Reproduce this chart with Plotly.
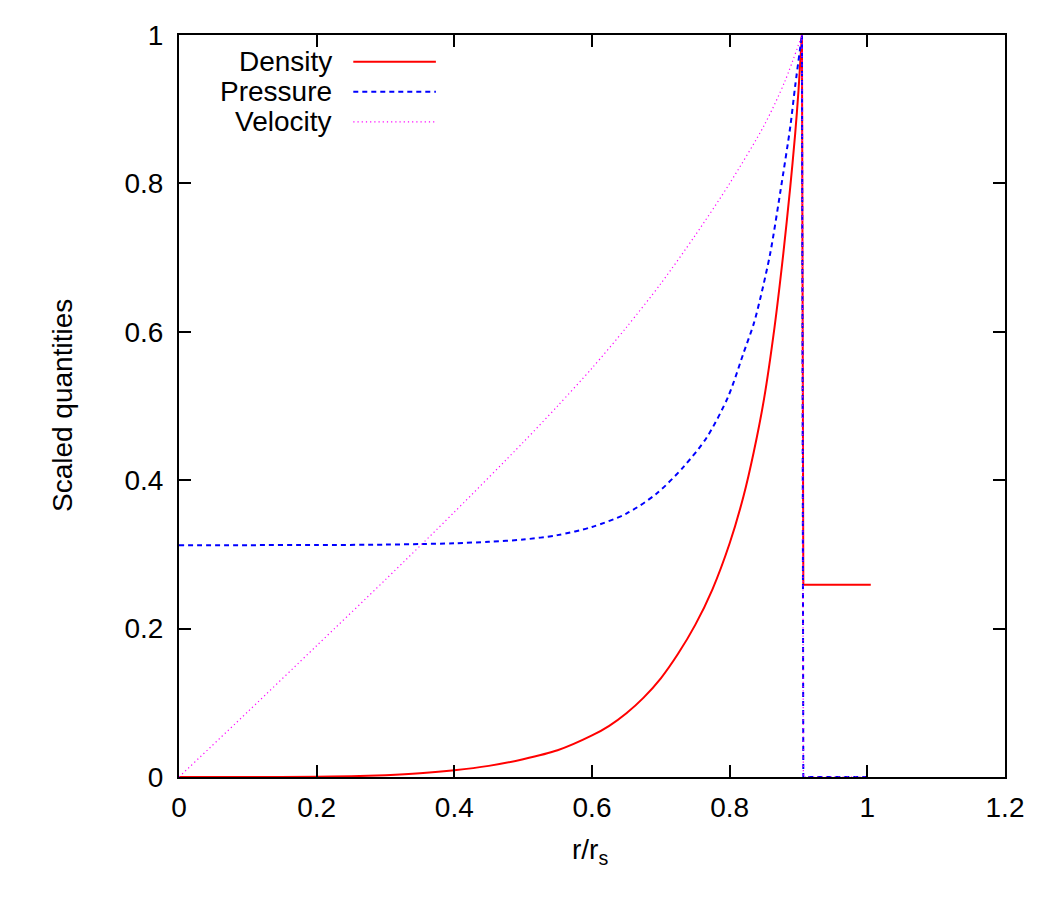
import plotly.graph_objects as go

# ---- data ----
density_x = [0, 0.1, 0.2, 0.25, 0.3, 0.35, 0.4, 0.45, 0.5, 0.55, 0.6, 0.625, 0.65, 0.675,
             0.7, 0.725, 0.75, 0.775, 0.8, 0.82, 0.835, 0.85, 0.865, 0.878, 0.888, 0.895,
             0.9, 0.905, 0.907, 1.005]
density_y = [0, 0.0, 0.0003, 0.001, 0.0025, 0.005, 0.009, 0.015, 0.024, 0.036, 0.056, 0.069,
             0.086, 0.107, 0.133, 0.166, 0.205, 0.253, 0.315, 0.378, 0.438, 0.51, 0.605,
             0.706, 0.795, 0.865, 0.925, 1.0, 0.259, 0.259]

pressure_x = [0, 0.1, 0.2, 0.3, 0.35, 0.4, 0.45, 0.5, 0.55, 0.6, 0.65, 0.694, 0.733, 0.767,
              0.798, 0.82, 0.835, 0.845, 0.859, 0.874, 0.888, 0.895, 0.905, 0.907, 1.0]
pressure_y = [0.3125, 0.3125, 0.3126, 0.3132, 0.314, 0.315, 0.317, 0.320, 0.326, 0.337, 0.355,
              0.382, 0.418, 0.458, 0.513, 0.571, 0.611, 0.647, 0.706, 0.791, 0.876, 0.93,
              1.0, 0.0, 0.0]

velocity_x = [0, 0.1, 0.2, 0.3, 0.4, 0.5, 0.55, 0.6, 0.65, 0.7, 0.75, 0.8, 0.85, 0.88,
              0.905, 0.907, 1.0]
velocity_y = [0, 0.088, 0.177, 0.266, 0.357, 0.451, 0.500, 0.551, 0.606, 0.665, 0.730, 0.800,
              0.878, 0.937, 1.0, 0.0, 0.0]

# index of the shock peak in each series (smooth part ends there, the jump follows)
shock_index = [27, 22, 14]

series_names = ["Density", "Pressure", "Velocity"]
series_colors = ["#ff0000", "#0000ff", "#ff00ff"]
series_dash = ["solid", "5px,4px", "1.2px,3px"]
series_width = [2, 2, 1.2]

x_ticks = [0, 0.2, 0.4, 0.6, 0.8, 1.0, 1.2]
x_ticklabels = ["0", "0.2", "0.4", "0.6", "0.8", "1", "1.2"]
y_ticks = [0, 0.2, 0.4, 0.6, 0.8, 1.0]
y_ticklabels = ["0", "0.2", "0.4", "0.6", "0.8", "1"]

FONT = "Liberation Sans, Arial, Helvetica, sans-serif"
FS = 28

fig = go.Figure()
for name, xs, ys, k, c, d, w in zip(series_names,
                                    [density_x, pressure_x, velocity_x],
                                    [density_y, pressure_y, velocity_y],
                                    shock_index, series_colors, series_dash, series_width):
    # smooth profile up to the shock
    fig.add_trace(go.Scatter(x=xs[:k + 1], y=ys[:k + 1], mode="lines", name=name,
                             line=dict(color=c, dash=d, width=w, shape="spline", smoothing=0.8),
                             showlegend=False))
    # jump at the shock and the undisturbed region
    fig.add_trace(go.Scatter(x=xs[k:], y=ys[k:], mode="lines", name=name,
                             line=dict(color=c, dash=d, width=w),
                             showlegend=False))

# gnuplot-style legend: text right-aligned, sample line to the right
leg_y = [0.964, 0.9235, 0.883]
for name, c, d, w, yy in zip(series_names, series_colors, series_dash, series_width, leg_y):
    fig.add_annotation(x=0.1877, y=yy, xref="paper", yref="paper", text=name,
                       showarrow=False, xanchor="right", yanchor="middle",
                       font=dict(family=FONT, size=FS, color="black"))
    fig.add_shape(type="line", xref="paper", yref="paper", x0=0.211, x1=0.311,
                  y0=yy, y1=yy, line=dict(color=c, dash=d, width=w))

# axis titles
fig.add_annotation(x=-0.1416, y=0.5, xref="paper", yref="paper", text="Scaled quantities",
                   textangle=-90, showarrow=False, xanchor="center", yanchor="middle",
                   font=dict(family=FONT, size=FS, color="black"))
fig.add_annotation(x=0.497, y=-0.1, xref="paper", yref="paper", text="r/r<sub>s</sub>",
                   showarrow=False, xanchor="center", yanchor="middle",
                   font=dict(family=FONT, size=FS, color="black"))

axis_common = dict(showgrid=False, zeroline=False, showline=True, linecolor="black",
                   linewidth=2, mirror="allticks", ticks="inside", ticklen=12,
                   tickwidth=2, tickcolor="black",
                   tickfont=dict(family=FONT, size=FS, color="black"))

fig.update_xaxes(range=[0, 1.2], tickvals=x_ticks, ticktext=x_ticklabels,
                 ticklabelstandoff=4, **axis_common)
fig.update_yaxes(range=[0, 1.0], tickvals=y_ticks, ticktext=y_ticklabels,
                 ticklabelstandoff=8, **axis_common)

fig.update_layout(width=1050, height=900,
                  margin=dict(l=179, r=45, t=35, b=123),
                  plot_bgcolor="white", paper_bgcolor="white",
                  font=dict(family=FONT, size=FS, color="black"))

fig.write_html("out.html")
